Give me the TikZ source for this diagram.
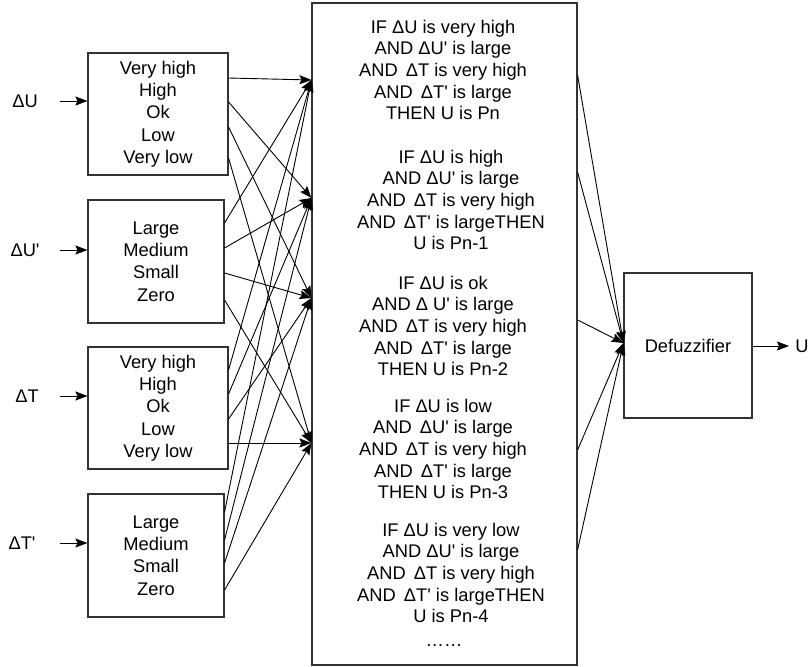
\documentclass[tikz,border=0pt]{standalone}
\usepackage{fontspec}
\newfontfamily\lsans{Liberation Sans}
\usetikzlibrary{arrows.meta,calc}
\begin{document}
\begin{tikzpicture}[x=1pt,y=-1pt,
  box/.style={draw=black!80, line width=1.1pt, inner sep=0pt, align=center,
    font=\lsans\fontsize{18.3}{22.3}\selectfont},
  ruletext/.style={align=center, inner sep=0pt, font=\lsans\fontsize{18.3}{21.7}\selectfont},
  lbl/.style={inner sep=0pt, font=\lsans\fontsize{18.3}{21}\selectfont},
  arr/.style={line width=0.9pt, -{Stealth[length=12pt,width=9pt,inset=2pt]}}
]
\useasboundingbox (0,0) rectangle (812,667);

% fuzzifier boxes
\node[box, minimum width=140pt, minimum height=122pt] (b1) at (158,114)
  {Very high\\High\\Ok\\Low\\Very low};
\node[box, minimum width=136pt, minimum height=123pt] (b2) at (156,261.5)
  {Large\\Medium\\Small\\Zero};
\node[box, minimum width=140pt, minimum height=122pt] (b3) at (158,408)
  {Very high\\High\\Ok\\Low\\Very low};
\node[box, minimum width=136pt, minimum height=123pt] (b4) at (156,555.5)
  {Large\\Medium\\Small\\Zero};

% inputs
\node[lbl] (lu) at (25,101) {ΔU};
\node[lbl] (lup) at (25,250) {ΔU'};
\node[lbl] (lt) at (27,396) {ΔT};
\node[lbl] (ltp) at (22,543) {ΔT'};
\coordinate (iu) at (60,101);
\coordinate (iup) at (60,250);
\coordinate (it) at (60,396);
\coordinate (itp) at (60,543);
\draw[arr] (iu) -- (b1.west |- iu);
\draw[arr] (iup) -- (b2.west |- iup);
\draw[arr] (it) -- (b3.west |- it);
\draw[arr] (itp) -- (b4.west |- itp);

% rule base
\node[draw=black!80, line width=1.1pt, minimum width=265pt, minimum height=662pt, inner sep=0pt] (rb) at (444.5,334) {};
\node[ruletext] (r1) at (443,70)
  {IF ΔU is very high\\AND ΔU' is large\\AND~\,ΔT is very high\\AND~\,ΔT' is large\\THEN U is Pn};
\node[ruletext] (r2) at (451,200)
  {IF ΔU is high\\AND ΔU' is large\\AND~\,ΔT is very high\\AND~\,ΔT' is largeTHEN\\U is Pn-1};
\node[ruletext] (r3) at (443,326)
  {IF ΔU is ok\\AND Δ U' is large\\AND~\,ΔT is very high\\AND~\,ΔT' is large\\THEN U is Pn-2};
\node[ruletext] (r4) at (443,449)
  {IF ΔU is low\\AND~\,ΔU' is large\\AND~\,ΔT is very high\\AND~\,ΔT' is large\\THEN U is Pn-3};
\node[ruletext] (r5) at (451,573)
  {IF ΔU is very low\\AND ΔU' is large\\AND~\,ΔT is very high\\AND~\,ΔT' is largeTHEN\\U is Pn-4};
\node[ruletext] (dots) at (444,646) {……};

% rule inputs
\coordinate (t1) at (rb.west |- 0,80);
\coordinate (t2) at (rb.west |- 0,198);
\coordinate (t3) at (rb.west |- 0,298);
\coordinate (t4) at (rb.west |- 0,443);
\foreach \y/\t in {78/t1,102/t2,127/t3,158/t4}
  \draw[arr] (b1.east |- 0,\y) -- (\t);
\foreach \y/\t in {223/t1,248/t2,273/t3,300/t4}
  \draw[arr] (b2.east |- 0,\y) -- (\t);
\foreach \y/\t in {370/t1,394/t2,419/t3,443/t4}
  \draw[arr] (b3.east |- 0,\y) -- (\t);
\foreach \y/\t in {512/t1,540/t2,563/t3,590/t4}
  \draw[arr] (b4.east |- 0,\y) -- (\t);

% defuzzifier
\node[box, minimum width=128pt, minimum height=145pt] (df) at (688,345.5) {Defuzzifier};
\coordinate (t5) at (df.west |- 0,343);
\foreach \y in {75,172,320,450,550}
  \draw[arr] (rb.east |- 0,\y) -- (t5);
\node[lbl] (uout) at (802,346) {U};
\coordinate (uo) at (789,346);
\draw[arr] (df.east |- uo) -- (uo);
\end{tikzpicture}
\end{document}
